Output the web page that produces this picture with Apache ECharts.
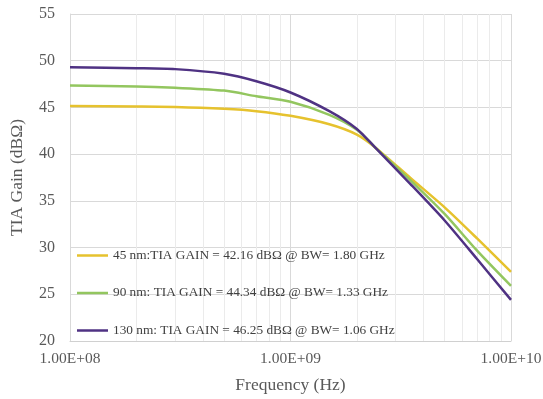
<!DOCTYPE html>
<html>
<head>
<meta charset="utf-8">
<script src="https://cdn.jsdelivr.net/npm/echarts@6/dist/echarts.min.js"></script>
<style>
  html, body { margin: 0; padding: 0; background: #ffffff; }
  #chart { width: 543px; height: 399px; }
</style>
</head>
<body>
<div id="chart"></div>
<script>
// Frequency sweep points (Hz)
const freqs = [1e8, 2e8, 3e8, 5e8, 7e8, 1e9, 1.5e9, 2e9, 2.4e9, 3.5e9, 5e9, 7e9, 1e10];

// TIA gain (dBΩ) per technology node
const gain45 = [45.15, 45.1, 45.05, 44.85, 44.6, 44.1, 43.2, 42.1, 40.8, 37.45, 34.3, 31.0, 27.4];
const gain90 = [47.35, 47.25, 47.1, 46.8, 46.2, 45.6, 44.2, 42.6, 40.8, 37.2, 33.6, 29.7, 25.9];
const gain130 = [49.3, 49.2, 49.1, 48.6, 47.8, 46.6, 44.6, 42.7, 40.8, 36.8, 32.9, 28.8, 24.4];

const seriesNames = [
  '45 nm:TIA GAIN = 42.16 dBΩ @ BW= 1.80 GHz',
  '90 nm: TIA GAIN = 44.34 dBΩ @ BW= 1.33 GHz',
  '130 nm: TIA GAIN = 46.25 dBΩ @ BW= 1.06 GHz'
];

// Intermediate decade values used for the light vertical gridlines
const minorGridFreqs = [2e8, 3e8, 4e8, 5e8, 6e8, 7e8, 8e8, 9e8,
                        2e9, 3e9, 4e9, 5e9, 6e9, 7e9, 8e9, 9e9];

const yTicks = { min: 20, max: 55, interval: 5 };

const serif = 'Liberation Serif';
const colors = ['#e6c22e', '#93c65f', '#4f3283'];

function sciLabel(v) {
  const exp = Math.round(Math.log10(v));
  const mant = v / Math.pow(10, exp);
  const sign = exp < 0 ? '-' : '+';
  const e = String(Math.abs(exp)).padStart(2, '0');
  return mant.toFixed(2) + 'E' + sign + e;
}

function pairs(vals) {
  return freqs.map((f, i) => [f, vals[i]]);
}

const chart = echarts.init(document.getElementById('chart'), null, { renderer: 'canvas' });

const baseSeries = (name, vals, color) => ({
  name: name,
  type: 'line',
  data: pairs(vals),
  smooth: 0.25,
  symbol: 'none',
  lineStyle: { color: color, width: 2.5 },
  itemStyle: { color: color },
  z: 3
});

const s45 = baseSeries(seriesNames[0], gain45, colors[0]);
const s90 = baseSeries(seriesNames[1], gain90, colors[1]);
const s130 = baseSeries(seriesNames[2], gain130, colors[2]);

s45.markLine = {
  silent: true,
  symbol: 'none',
  label: { show: false },
  lineStyle: { color: '#ebebeb', width: 1, type: 'solid' },
  data: minorGridFreqs.map(f => ({ xAxis: f })),
  z: 1
};

// Legend swatch: a short flat bar
const lineIcon = 'path://M0,0L31,0L31,2.5L0,2.5Z';

chart.setOption({
  animation: false,
  backgroundColor: '#ffffff',
  grid: { left: 70, right: 32, top: 14, bottom: 58, containLabel: false, outerBoundsMode: 'none' },
  legend: {
    orient: 'vertical',
    left: 72,
    top: 244,
    itemWidth: 31,
    itemHeight: 14,
    itemGap: 24.5,
    textStyle: { fontFamily: serif, fontSize: 13.3, color: '#404040' },
    data: seriesNames.map(n => ({ name: n, icon: lineIcon }))
  },
  xAxis: {
    type: 'log',
    logBase: 10,
    min: 1e8,
    max: 1e10,
    interval: 1,
    name: 'Frequency (Hz)',
    nameLocation: 'middle',
    nameGap: 35,
    nameTextStyle: { fontFamily: serif, fontSize: 17.5, color: '#595959' },
    axisLine: { show: true, lineStyle: { color: '#d0d0d0', width: 1 } },
    axisTick: { show: false },
    axisLabel: {
      fontFamily: serif, fontSize: 15.5, color: '#595959', margin: 10,
      formatter: sciLabel
    },
    splitLine: { show: true, lineStyle: { color: '#d9d9d9', width: 1 } }
  },
  yAxis: {
    type: 'value',
    min: yTicks.min,
    max: yTicks.max,
    interval: yTicks.interval,
    name: 'TIA Gain (dBΩ)',
    nameLocation: 'middle',
    nameGap: 44,
    nameTextStyle: { fontFamily: serif, fontSize: 17.5, color: '#595959' },
    axisLine: { show: true, lineStyle: { color: '#d9d9d9', width: 1 } },
    axisTick: { show: false },
    axisLabel: { fontFamily: serif, fontSize: 16, color: '#595959', margin: 15 },
    splitLine: { show: true, lineStyle: { color: '#d9d9d9', width: 1 } }
  },
  series: [s45, s90, s130]
});
</script>
</body>
</html>
